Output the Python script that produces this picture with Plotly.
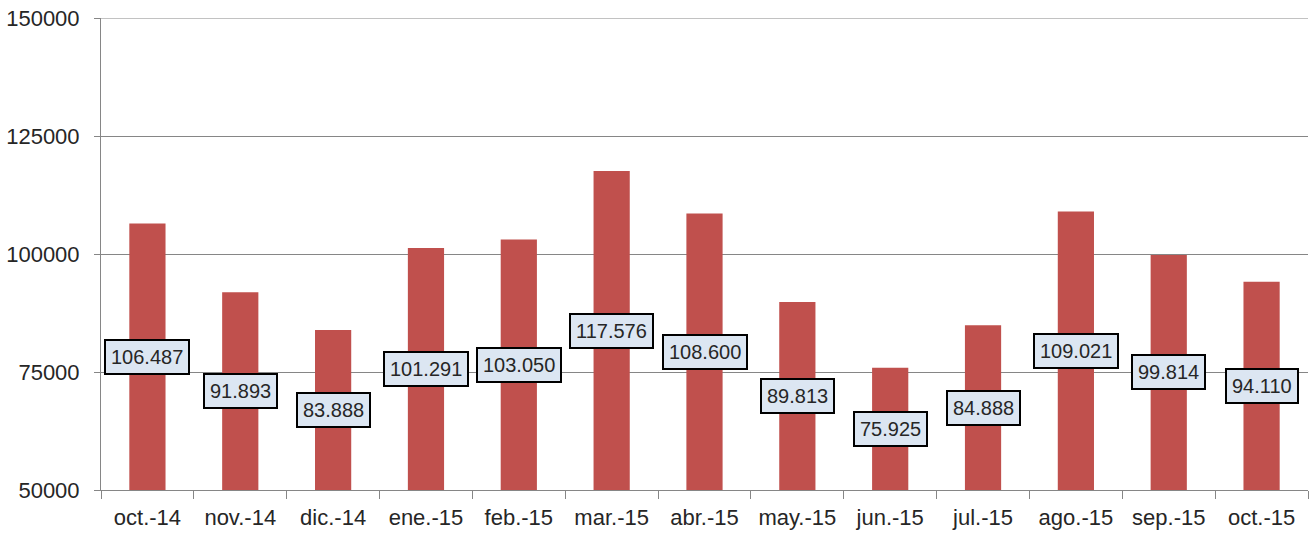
import plotly.graph_objects as go

categories = ["oct.-14", "nov.-14", "dic.-14", "ene.-15", "feb.-15", "mar.-15", "abr.-15",
              "may.-15", "jun.-15", "jul.-15", "ago.-15", "sep.-15", "oct.-15"]
values = [106487, 91893, 83888, 101291, 103050, 117576, 108600,
          89813, 75925, 84888, 109021, 99814, 94110]
y_ticks = [50000, 75000, 100000, 125000, 150000]
y_min, y_max = 50000, 150000

FONT = "Liberation Sans"
TEXT = "#262626"
GRID = "#868686"

def fmt(v):
    return f"{v:,}".replace(",", ".")

fig = go.Figure()
fig.add_trace(go.Bar(
    x=categories, y=[v - y_min for v in values], base=y_min,
    marker=dict(color="#c0504d", line=dict(width=0)),
    hoverinfo="skip",
))

for c, v in zip(categories, values):
    fig.add_annotation(
        x=c, y=(y_min + v) / 2, text=fmt(v), showarrow=False,
        font=dict(family=FONT, size=20, color=TEXT),
        bgcolor="#dce6f2", bordercolor="#000000", borderwidth=2, borderpad=5,
        xanchor="center", yanchor="middle",
    )

# top gridline (Plotly skips the gridline that sits on the plot edge)
fig.add_shape(type="line", xref="paper", yref="y", x0=0, x1=1, y0=y_max, y1=y_max,
              line=dict(color=GRID, width=1), layer="below")

fig.update_layout(
    width=1315, height=535,
    margin=dict(l=101, r=7, t=18, b=45),
    paper_bgcolor="white", plot_bgcolor="white",
    bargap=0.61, showlegend=False,
    font=dict(family=FONT, size=22, color=TEXT),
)
fig.update_xaxes(
    type="category", tickson="boundaries", ticks="outside", ticklen=8,
    tickcolor=GRID, tickwidth=1, ticklabelstandoff=8, automargin=False,
    showline=True, linecolor=GRID, linewidth=1,
    showgrid=False, tickfont=dict(family=FONT, size=22, color=TEXT),
)
fig.update_yaxes(
    range=[y_min, y_max], tickvals=y_ticks, ticktext=[str(t) for t in y_ticks],
    ticks="outside", ticklen=6, tickcolor=GRID, ticklabelstandoff=10,
    automargin=False,
    showline=True, linecolor=GRID, linewidth=1,
    showgrid=True, gridcolor=GRID, gridwidth=1, zeroline=False,
    tickfont=dict(family=FONT, size=22, color=TEXT),
)

fig.write_html(
    "out.html",
    config={"displayModeBar": False},
    post_script="document.body.style.margin='0';document.body.style.overflow='hidden';",
)
